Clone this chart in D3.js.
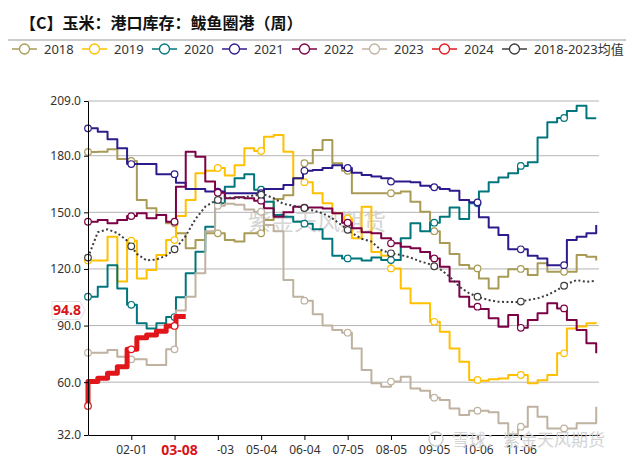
<!DOCTYPE html>
<html>
<head>
<meta charset="utf-8">
<script src="https://cdn.jsdelivr.net/npm/d3@7.9.0/dist/d3.min.js"></script>
<style>
  body { margin: 0; background: #fff; }
  svg text { font-family: "Noto Sans", "Noto Sans CJK SC", sans-serif; }
</style>
</head>
<body>
<svg width="634" height="460"></svg>
<script>
// weekly values, week 0 = 01-01
const names = ['2018', '2019', '2020', '2021', '2022', '2023', '2024', '2018-2023均值'];
const colors = ['#a99b55', '#ffc000', '#00767c', '#2c1b8c', '#7b0046', '#bfb2a0', '#e0161b', '#3c3c3c'];

const s2018 = [182,182.1,183.4,178.3,177.2,156.5,152.1,148.6,144.2,138.9,131,135.3,138.9,138.9,135.3,134.5,138.9,138.9,146,157,159,168,176,183,188.3,176,172,160.1,160.1,160.1,160.1,160.1,161,155.6,150.3,140,133.7,127.9,122.1,120.3,115,109.7,115.9,119.8,120,116.8,123,118.5,118.5,118.5,127.4,126.5,124.5];
const s2019 = [124.5,124.5,137,113.3,135,115,119.4,127.4,135.3,148,156.5,170.7,172,173.5,169.5,175,184,182.5,190.1,191,182.1,168,166,160.1,154.8,149.5,146.8,136.2,153,129,127,120.3,109.7,101.8,101.8,92,86.7,77.9,70.8,61.2,60.8,61.5,62,63.8,63.8,59.4,61,63.8,75.3,88.5,89.5,91.2,91];
const s2020 = [105.3,110.6,122,109.7,101,91.2,88.5,91.2,94.5,105,117.7,129.1,142.4,154.8,163.6,168,170.2,162,155.6,148.6,147.7,145,144,141,136,127,125.6,125.6,124.5,126,124.7,124.7,136.2,144.2,140,144.5,147.7,152.5,146.5,154.8,161,165.9,168.4,170.7,174.6,176.5,189.6,197.7,200,203.7,206.5,199.8,199.8];
const s2021 = [194.5,192.7,188.7,184,175.6,175.6,175.6,170.2,170.2,165.7,162.4,162.4,161,161,160.1,160.1,160.1,160.1,162.4,162.4,164.5,168,172,172.5,173.5,175,173.5,171,169.8,169,168,166.3,166.3,166,164.1,163.3,162.4,161.5,156.5,155.3,147.4,141.9,138,130.4,130.4,127,125.6,122,122,135.3,137.1,138.9,143.3];
const s2022 = [145,145.9,144.2,145.9,148,149.5,146.8,148.6,145,163.6,182.1,179.5,166.3,160.4,157.4,158,157.5,156.2,152.1,147.7,150,153,152.5,152.5,152,149.5,144.5,141.5,139.5,138.9,136.2,133.6,131.8,131,129,125.6,121.2,113.3,105.3,100,98.8,93.9,89.4,95.6,88.8,93,96.5,101.8,99.1,93,87.6,80.6,75.3];
const s2023 = [75.6,75.6,77,73.5,72.1,72.1,69.1,69.1,77.4,98,105.3,117.7,140,153.5,154.5,154,151.5,150.3,143.3,140,114.1,105.3,103.2,96,90,87.6,86.2,77.9,66.4,59.4,57.6,60.3,62.9,56.7,55.5,51.8,50.5,46.1,42.6,44.9,44.9,44,38.2,32.5,36.4,47,41.7,35.5,35.5,35.5,38.2,38.2,47];
// 2024: each value covers the week ending on its date
const s2024 = [47.4,60.3,62.1,64.7,68.2,77.4,83.5,85,87,89.8,94.8];
const sMean = [126,139.5,141,139,135,128,124.5,125,127,131,137.5,146.5,153,156,158,157.5,158,159,159.5,157.5,154.5,153.5,152.5,151,149.5,146.8,143,139,136,134.5,130,128.3,127.4,126,124,122.5,120,116,110.6,107.1,105,103.5,102.6,102.5,102.4,103.5,104.4,106.2,108.8,112,114.1,113.2,113.8];

const yTicks = [32, 60, 90, 120, 150, 180, 209];
const xTickLabels = ['02-01', '03-03', '04-03', '05-04', '06-04', '07-05', '08-05', '09-05', '10-06', '11-06'];
const lastLabel = '03-08';
const lastValue = 94.8;

const series = [s2018, s2019, s2020, s2021, s2022, s2023, s2024, sMean];
const order = [0, 1, 2, 3, 4, 5, 7, 6];

const svg = d3.select('svg');
const start = new Date(2024, 0, 1);
const weekDate = i => d3.timeDay.offset(start, 7 * i);
const parse = d3.timeParse('%Y-%m-%d');

const x = d3.scaleTime().domain([start, new Date(2025, 0, 1)]).range([88, 599]);
const y = d3.scaleLinear().domain([32, 209]).range([435, 101]);

// title
svg.append('text')
  .attr('x', 20).attr('y', 29)
  .attr('font-size', 16).attr('font-weight', 'bold')
  .style('font-family', '"Noto Sans CJK SC", sans-serif')
  .attr('fill', '#111')
  .text('【C】玉米：港口库存：鲅鱼圈港（周）');
svg.append('line')
  .attr('x1', 8).attr('x2', 626).attr('y1', 40).attr('y2', 40)
  .attr('stroke', '#999');

// legend
names.forEach((n, i) => {
  const g = svg.append('g').attr('transform', `translate(${12 + i * 70},49)`);
  g.append('line').attr('x1', 0).attr('x2', 25).attr('stroke', colors[i]).attr('stroke-width', 1.5);
  g.append('circle').attr('cx', 12.5).attr('r', 5).attr('fill', '#fff').attr('stroke', colors[i]).attr('stroke-width', 1.3);
  g.append('text').attr('x', 32).attr('y', 4.5).attr('font-size', 13).attr('fill', '#333').text(n);
});

// grid
svg.append('g').selectAll('line')
  .data(yTicks.filter(d => d > 32))
  .join('line')
  .attr('x1', 88).attr('x2', 599)
  .attr('y1', d => y(d)).attr('y2', d => y(d))
  .attr('stroke', '#b4b4b4');

// watermark
svg.append('text')
  .attr('x', 317).attr('y', 230).attr('text-anchor', 'middle')
  .attr('font-size', 23).attr('fill', '#c8c8c8').attr('opacity', 0.75)
  .style('font-family', '"Noto Sans CJK SC", sans-serif')
  .text('紫金天风期货');

// lines
const stepLine = curve => d3.line()
  .x((d, i) => x(weekDate(i)))
  .y(d => y(d))
  .curve(curve);

const markerDays = d3.range(0, 12).map(k => k * 31);

order.forEach(k => {
  const vals = series[k];
  const isMean = k === 7;
  const isNow = k === 6;
  const c = colors[k];
  const curve = isMean ? d3.curveLinear : (isNow ? d3.curveStepBefore : d3.curveStepAfter);
  svg.append('path')
    .attr('d', stepLine(curve)(vals))
    .attr('fill', 'none')
    .attr('stroke', c)
    .attr('stroke-width', isNow ? 5 : 2)
    .attr('stroke-dasharray', isMean ? '2,2.5' : null)
    .attr('stroke-linejoin', 'round');

  const pts = [];
  markerDays.forEach(d => {
    const idx = isNow ? Math.ceil(d / 7) : Math.floor(d / 7);
    if (idx >= vals.length) return;
    let v = vals[idx];
    if (isMean && idx + 1 < vals.length) {
      const f = (d - idx * 7) / 7;
      v = vals[idx] + (vals[idx + 1] - vals[idx]) * f;
    }
    pts.push({ d: d3.timeDay.offset(start, d), v });
  });
  svg.append('g').selectAll('circle')
    .data(pts)
    .join('circle')
    .attr('cx', p => x(p.d)).attr('cy', p => y(p.v))
    .attr('r', 3.3)
    .attr('fill', '#fff')
    .attr('stroke', c)
    .attr('stroke-width', 1.2);
});

// axes
const yAxis = svg.append('g')
  .attr('transform', 'translate(88,0)')
  .call(d3.axisLeft(y).tickValues(yTicks).tickFormat(d3.format('.1f')).tickSize(4).tickSizeOuter(0));
yAxis.selectAll('text').attr('font-size', 12).attr('fill', '#333').attr('x', -7);
yAxis.select('.domain').attr('stroke', '#000');

const lastX = x(parse('2024-' + lastLabel));
const fmt = d3.timeFormat('%m-%d');
const xAxis = svg.append('g')
  .attr('transform', 'translate(0,435)')
  .call(d3.axisBottom(x)
    .tickValues(xTickLabels.map(t => parse('2024-' + t)))
    // the tick under the current-week label is hidden by it
    .tickFormat(d => Math.abs(x(d) - lastX) < 20 ? '' : fmt(d))
    .tickSize(5).tickSizeOuter(0));
xAxis.selectAll('text').attr('font-size', 12).attr('fill', '#333').attr('dy', '0.9em');
xAxis.select('.domain').attr('stroke', '#000');

// current-week labels
svg.append('rect')
  .attr('x', lastX - 30).attr('y', 441).attr('width', 66).attr('height', 18)
  .attr('fill', '#fff');
svg.append('text')
  .attr('x', lastX - 2).attr('y', 455).attr('text-anchor', 'middle')
  .attr('font-size', 14).attr('font-weight', 'bold').attr('fill', '#d7141a')
  .text(lastLabel);

const ly = y(lastValue) - 6;
svg.append('path')
  .attr('d', `M52,${ly - 9} H80 L85,${ly} L80,${ly + 9} H52 Z`)
  .attr('fill', '#fff').attr('stroke', '#e2e2e2');
svg.append('text')
  .attr('x', 81).attr('y', ly + 5).attr('text-anchor', 'end')
  .attr('font-size', 14).attr('font-weight', 'bold').attr('fill', '#d7141a')
  .text(lastValue.toFixed(1));

// bottom-right watermark
svg.append('circle').attr('cx', 436).attr('cy', 439).attr('r', 7)
  .attr('fill', 'none').attr('stroke', '#cfcfcf').attr('stroke-width', 1.5);
svg.append('text')
  .attr('x', 452).attr('y', 446)
  .attr('font-size', 17).attr('fill', '#cfcfcf').attr('opacity', 0.9)
  .style('font-family', '"Noto Sans CJK SC", sans-serif')
  .text('雪球：紫金天风期货');
</script>
</body>
</html>
